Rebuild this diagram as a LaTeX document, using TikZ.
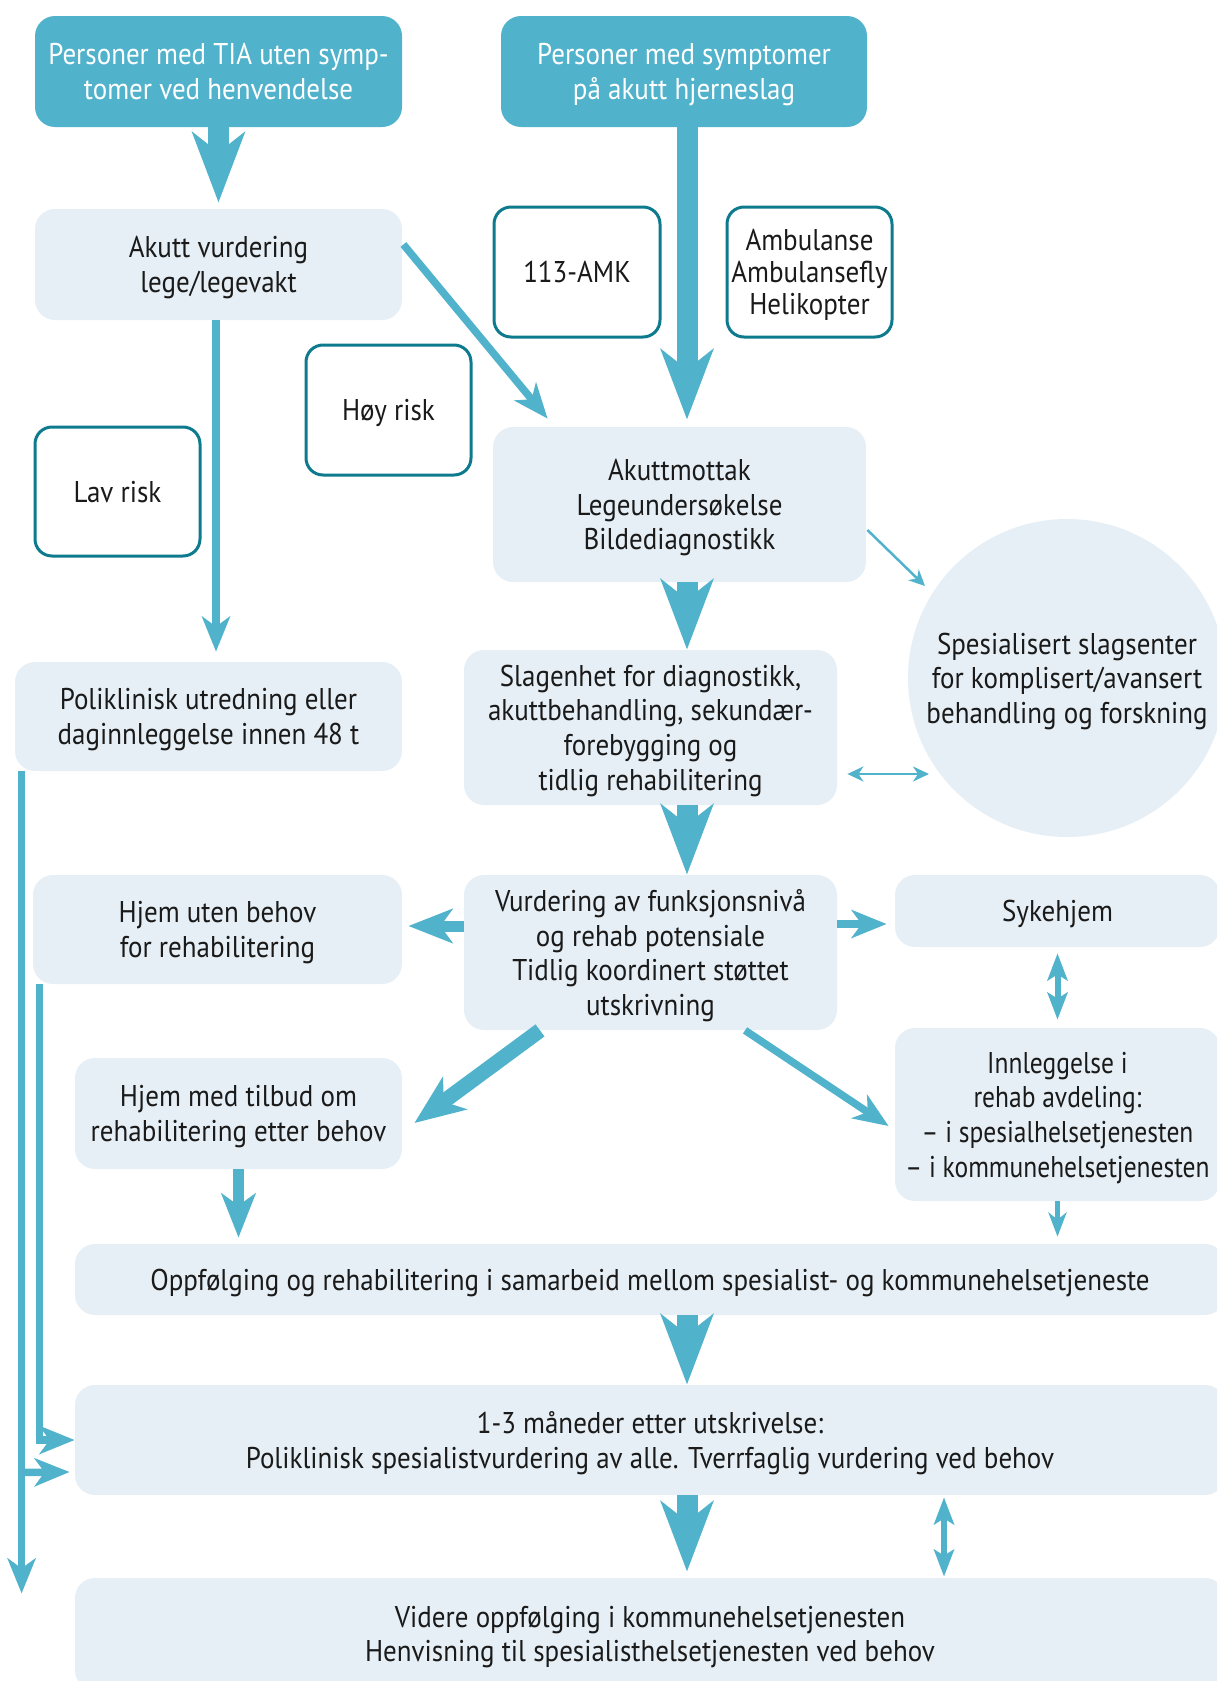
\documentclass[tikz,border=0pt]{standalone}
\usepackage{fontspec}
\setmainfont{PT Sans}[FakeStretch=0.9]
\newfontfamily\innlfont{PT Sans}[FakeStretch=0.85]
\usetikzlibrary{arrows.meta,calc}

\definecolor{slagteal}{HTML}{50B2CB}
\definecolor{slaglight}{HTML}{E6EFF5}
\definecolor{slagborder}{HTML}{0E7A8D}
\definecolor{slagtext}{HTML}{1A1A1A}

\tikzset{
  basebox/.style={rounded corners=10pt, align=center, inner sep=0pt, text=slagtext, text depth=0pt,
    font=\fontsize{15pt}{17.3pt}\selectfont},
  headbox/.style={basebox, fill=slagteal, text=white},
  infobox/.style={basebox, fill=slaglight},
  markbox/.style={basebox, fill=white, draw=slagborder, line width=1.5pt, rounded corners=8.5pt},
  bigarr/.style={draw=slagteal, line width=10.5pt, -{Stealth[length=35pt,width=26pt,inset=10pt]}},
  thickarr/.style={draw=slagteal, line width=7.5pt, -{Stealth[length=25pt,width=20pt,inset=7pt]}},
  medarr/.style={draw=slagteal, line width=5.5pt, -{Stealth[length=22pt,width=17pt,inset=6pt]}},
  sidearr/.style={draw=slagteal, line width=3.75pt, -{Stealth[length=17.5pt,width=14pt,inset=5pt]}},
  smallarr/.style={draw=slagteal, line width=2.5pt, -{Stealth[length=12pt,width=9pt,inset=3.5pt]}},
  dblarr/.style={draw=slagteal, line width=3pt,
    {Stealth[length=13.5pt,width=10pt,inset=3pt]}-{Stealth[length=13.5pt,width=10pt,inset=3pt]}},
  thinarr/.style={draw=slagteal, line width=1.25pt, -{Stealth[length=8pt,width=7.5pt,inset=2.5pt]}},
}

\begin{document}
\begin{tikzpicture}[x=0.5pt, y=-0.5pt]
  \useasboundingbox (0,0) rectangle (1217,1681);
  \clip (0,0) rectangle (1217,1681);

  % Start boxes
  \node[headbox, minimum width=183.5pt, minimum height=55.5pt] (tia) at (218.5,71.5)
    {Personer med TIA uten symp-\\tomer ved henvendelse};
  \node[headbox, minimum width=183pt, minimum height=55.5pt] (sympt) at (684,71.5)
    {Personer med symptomer\\på akutt hjerneslag};

  % Assessment and transport
  \node[infobox, minimum width=183.5pt, minimum height=55.5pt] (akuttv) at (218.5,264.5)
    {Akutt vurdering\\lege/legevakt};
  \node[markbox, minimum width=83pt, minimum height=65pt] (amk) at (577,272) {113-AMK};
  \node[markbox, minimum width=82.5pt, minimum height=65pt, font=\fontsize{15pt}{16pt}\selectfont] (amb)
    at (809.5,272) {Ambulanse\\Ambulansefly\\Helikopter};
  \node[markbox, minimum width=82.5pt, minimum height=65pt] (hoy) at (388.5,410) {Høy risk};
  \node[markbox, minimum width=82.5pt, minimum height=64.5pt] (lav) at (117.5,491.5) {Lav risk};
  \node[infobox, minimum width=186.5pt, minimum height=77.5pt] (akuttm) at (679.5,504.5)
    {Akuttmottak\\Legeundersøkelse\\Bildediagnostikk};
  \node[infobox, circle, minimum size=159pt] (senter) at (1067,678)
    {Spesialisert slagsenter\\for komplisert/avansert\\behandling og forskning};

  % Hospital
  \node[infobox, minimum width=193.5pt, minimum height=54.5pt] (polikl) at (208.5,716.5)
    {Poliklinisk utredning eller\\daginnleggelse innen 48 t};
  \node[infobox, minimum width=186.5pt, minimum height=77.5pt] (slag) at (650.5,727.5)
    {Slagenhet for diagnostikk,\\akuttbehandling, sekundær-\\forebygging og\\tidlig rehabilitering};
  \node[infobox, minimum width=186.5pt, minimum height=77.5pt] (vurd) at (650.5,952.5)
    {Vurdering av funksjonsnivå\\og rehab potensiale\\Tidlig koordinert støttet\\utskrivning};

  % Discharge
  \node[infobox, minimum width=184.5pt, minimum height=54.5pt] (hjemu) at (217.5,929.5)
    {Hjem uten behov\\for rehabilitering};
  \node[infobox, minimum width=162.5pt, minimum height=36pt] (sykeh) at (1057.5,911) {Sykehjem};
  \node[infobox, minimum width=163.5pt, minimum height=55.5pt] (hjemm) at (238.5,1113.5)
    {Hjem med tilbud om\\rehabilitering etter behov};
  \node[infobox, minimum width=162.5pt, minimum height=86.5pt, font=\innlfont\fontsize{15pt}{17.3pt}\selectfont]
    (innl) at (1057.5,1114.5)
    {Innleggelse i\\rehab avdeling:\\– i spesialhelsetjenesten\\– i kommunehelsetjenesten};

  % Follow-up
  \node[infobox, minimum width=575pt, minimum height=35.5pt] (oppf) at (650,1279.5)
    {Oppfølging og rehabilitering i samarbeid mellom spesialist- og kommunehelsetjeneste};
  \node[infobox, minimum width=575pt, minimum height=55pt] (mnd) at (650,1440)
    {1-3 måneder etter utskrivelse:\\Poliklinisk spesialistvurdering av alle. Tverrfaglig vurdering ved behov};
  \node[infobox, minimum width=575pt, minimum height=56pt] (videre) at (650,1634)
    {Videre oppfølging i kommunehelsetjenesten\\Henvisning til spesialisthelsetjenesten ved behov};

  \coordinate (spine) at (687,0);

  % Arrows
  \draw[bigarr, shorten >=3pt] (tia.south) -- (tia.south |- akuttv.north);
  \draw[bigarr, shorten >=3.5pt] (sympt.south -| spine) -- (akuttm.north -| spine);
  \draw[sidearr] ($(akuttv.east)+(1,-20)$) -- ($(akuttm.north west)+(55,-8)$);
  \draw[sidearr, shorten >=5pt] ($(akuttv.south)+(-2.5,0)$) -- ($(akuttv.south |- polikl.north)+(-2.5,0)$);
  \draw[bigarr] (akuttm.south -| spine) -- (slag.north -| spine);
  \draw[thinarr] ($(akuttm.east)+(1,25.5)$) -- ($(senter.center)+(-142,-92)$);
  \draw[thinarr, {Stealth[length=8pt,width=7.5pt,inset=2.5pt]}-{Stealth[length=8pt,width=7.5pt,inset=2.5pt]}]
    ($(slag.east)+(10,46.5)$) -- ($(senter.center)+(-138,96)$);
  \draw[bigarr] (slag.south -| spine) -- (vurd.north -| spine);
  \draw[medarr] ($(vurd.west)+(0,-26.5)$) -- ($(hjemu.east)+(6,-3.5)$);
  \draw[sidearr] ($(vurd.east)+(0,-28.5)$) -- ($(sykeh.west)+(-8,13)$);
  \draw[thickarr] ($(vurd.south)+(-110.5,0)$) -- ($(hjemm.east)+(12,9.5)$);
  \draw[sidearr] ($(vurd.south)+(94.5,0)$) -- ($(innl.west)+(-6,11.5)$);
  \draw[dblarr] ($(sykeh.south)+(0,6)$) -- ($(innl.north)+(0,-8)$);
  \draw[medarr, shorten >=3pt] (hjemm.south) -- (hjemm.south |- oppf.north);
  \draw[smallarr, shorten >=3.5pt] (innl.south) -- (innl.south |- oppf.north);
  \draw[bigarr] (oppf.south -| spine) -- (mnd.north -| spine);
  \draw[bigarr, shorten >=3pt] (mnd.south -| spine) -- (videre.north -| spine);
  \draw[dblarr] ($(mnd.south)+(294,2)$) -- ($(videre.north)+(294,-1)$);

  % Side lines
  \draw[sidearr] ($(polikl.south west)+(7,0)$) -- ++(0,822);
  \draw[sidearr] ($(polikl.south west)+(7,701)$) -- ($(mnd.west)+(-5,32)$);
  \draw[sidearr] ($(hjemu.south west)+(7,0)$) |- (mnd.west);
\end{tikzpicture}
\end{document}
